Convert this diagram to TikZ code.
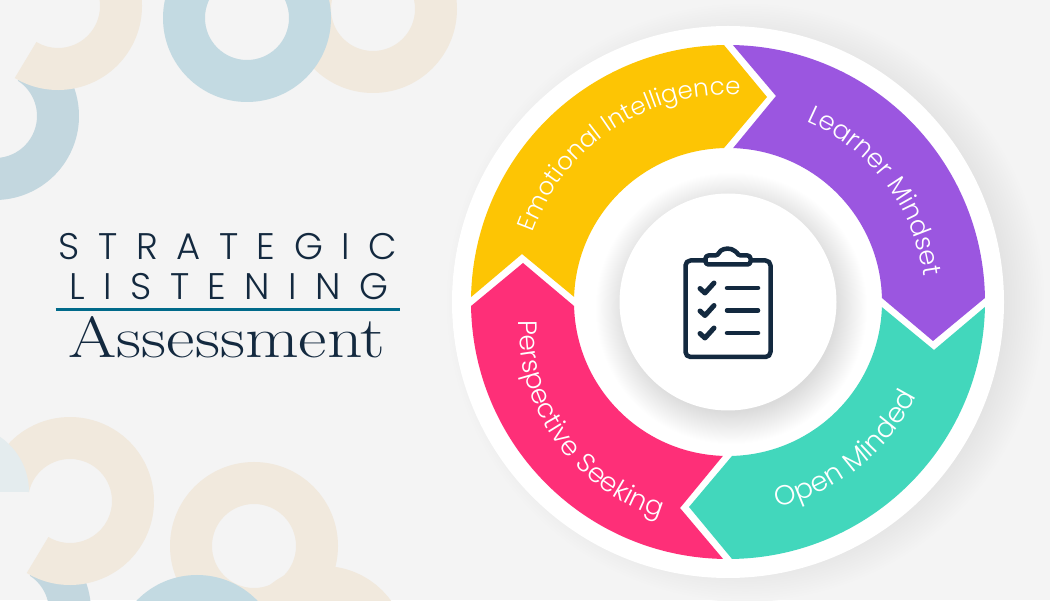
\documentclass[tikz,border=0pt]{standalone}
\usepackage{fontspec}
\usetikzlibrary{calc}
\usetikzlibrary{decorations.text}
\newfontfamily\titlefont[UprightFont=* Light,LetterSpace=50]{Poppins}
\newfontfamily\labelfont[UprightFont=* Light]{Poppins}
\setmainfont{Latin Modern Roman}
\definecolor{bgcol}{HTML}{F4F4F4}
\definecolor{beige}{HTML}{F1E9DD}
\definecolor{skyblue}{HTML}{C3DAE2}
\definecolor{dullblue}{HTML}{C3D7DF}
\definecolor{paleblue}{HTML}{E4ECEE}
\definecolor{navy}{HTML}{13293F}
\definecolor{rulecol}{HTML}{006A8A}
\definecolor{wheelyellow}{HTML}{FDC504}
\definecolor{wheelpurple}{HTML}{9B56E0}
\definecolor{wheelteal}{HTML}{42D7BC}
\definecolor{wheelpink}{HTML}{FE2F78}
\pgfdeclareradialshading{hubglow}{\pgfpoint{0bp}{0bp}}{color(0bp)=(black!14); color(19bp)=(black!14); color(25bp)=(white); color(50bp)=(white)}
\pgfdeclareradialshading{discglow}{\pgfpoint{0bp}{0bp}}{color(0bp)=(black!12); color(21bp)=(black!12); color(25bp)=(bgcol); color(50bp)=(bgcol)}
\tikzset{
  wheellabel/.style 2 args={decorate,decoration={text along path,text align=center,text color=white,text={|\labelfont\fontsize{#1}{#1}\selectfont|#2}}},
  titleline/.style={navy,anchor=base,font=\titlefont\fontsize{37}{37}\selectfont},
  iconline/.style={navy,line width=4.5,line cap=round,line join=round}
}
\begin{document}
\begin{tikzpicture}[x=1pt,y=1pt]
  \useasboundingbox (0,0) rectangle (1050,600);
  \fill[bgcol] (0,0) rectangle (1050,600);
  \coordinate (hub) at (728,298);

  % Rings in the corners
  \begin{scope}
    \clip (0,0) rectangle (1050,600);
    \foreach \dx/\dy/\stop in {58/594/450, 70/99/528} {
      \begin{scope}[shift={(\dx,\dy)}]
        \fill[dullblue,shift={(-63,-110)}] (57:84) arc[start angle=57,end angle=-100,radius=84]
          -- (-100:42) arc[start angle=-100,end angle=57,radius=42] -- cycle;
        \fill[beige] (239:84) arc[start angle=239,end angle=\stop,radius=84]
          -- (\stop:42) arc[start angle=\stop,end angle=239,radius=42] -- cycle;
      \end{scope}
    }
    \fill[paleblue] (29,108) arc[start angle=0,end angle=120,radius=67] -- (-38,108) -- cycle;
    \foreach \cx/\cy/\col in {373/591/beige, 247/582/skyblue, 254/54/beige, 323/-50/beige, 197/-59/skyblue}
      \fill[\col,even odd rule] (\cx,\cy) circle (84) (\cx,\cy) circle (42);
  \end{scope}

  % Title
  \node[titleline] (strategic) at (228,340) {STRATEGIC};
  \node[titleline] (listening) at (229,300) {LISTENING};
  \draw[rulecol,line width=3] (55.5,290.5) -- (399.5,290.5);
  \node[navy,anchor=base,xscale=1.2,font=\fontsize{58}{58}\selectfont] (assessment) at (227,242) {Assessment};

  % Disc behind the wheel
  \shade[shading=discglow] ($(hub)+(17,0)$) circle (300);
  \fill[white] (hub) circle (276);
  \shade[shading=hubglow] ($(hub)+(3,-6)$) circle (136);
  \fill[white] (hub) circle (108.5);

  % The four arrows
  \foreach \turn/\col in {0/wheelyellow, -90/wheelpurple, -180/wheelteal, 90/wheelpink} {
    \begin{scope}[shift={(hub)},rotate=\turn]
      \fill[\col] (178.9:257) arc[start angle=178.9,end angle=90.9,radius=257]
        -- (39,205) -- (91.5:154) arc[start angle=91.5,end angle=178.1,radius=154]
        -- (-206,48) -- cycle;
    \end{scope}
  }

  % Labels on the arrows
  \path[wheellabel={24.5}{Emotional Intelligence}] ($(hub)+(169.5:207)$) arc[start angle=169.5,end angle=77.5,radius=207];
  \path[wheellabel={26}{Learner Mindset}] ($(hub)+(84:197)$) arc[start angle=84,end angle=-10,radius=197];
  \path[wheellabel={27.5}{Open Minded}] ($(hub)+(-101.5:211)$) arc[start angle=-101.5,end angle=-1.5,radius=211];
  \coordinate (seekhub) at ($(hub)+(-9,-24.6)$);
  \path[wheellabel={26.5}{Perspective Seeking}] ($(seekhub)+(166:200)$) arc[start angle=166,end angle=265,radius=200];

  % Clipboard
  \draw[iconline,fill=white,rounded corners=5] (685.5,339.5) rectangle (770.5,243);
  \draw[iconline,fill=white,rounded corners=3] (705.5,335.5) -- (705.5,344.5) -- (718.1,344.5)
    arc[start angle=160,end angle=20,radius=10.5] -- (750.5,344.5) -- (750.5,335.5) -- cycle;
  \foreach \row in {0,1,2} {
    \draw[iconline] (727,312-22.5*\row) -- (758,312-22.5*\row);
    \draw[iconline,line width=5] (700,311.5-22.5*\row) -- (705,307-22.5*\row) -- (714,317-22.5*\row);
  }
\end{tikzpicture}
\end{document}
